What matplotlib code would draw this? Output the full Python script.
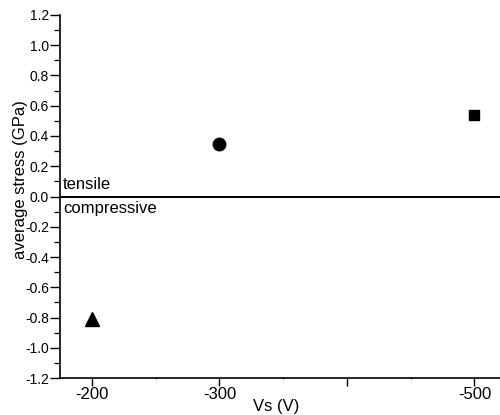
import matplotlib.pyplot as plt
from matplotlib.ticker import MultipleLocator

plt.rcParams['font.family'] = ['Liberation Sans', 'DejaVu Sans']

# data
vs = [-200, -300, -500]
stress = [-0.81, 0.35, 0.54]
markers = ['^', 'o', 's']
msizes = [9.5, 9, 7]
xticks = [-200, -300, -400, -500]
xticklabels = ['-200', '-300', '', '-500']

fig = plt.figure(figsize=(5, 4.15), dpi=100)
ax = fig.add_axes([0.12, 0.089, 0.88, 0.875])

for x, y, m, s in zip(vs, stress, markers, msizes):
    ax.plot(x, y, marker=m, color='black', markersize=s, linestyle='none')

ax.axhline(0, color='black', lw=1.4)

ax.set_xlim(-175, -520)
ax.set_ylim(-1.2, 1.2)
ax.set_xticks(xticks)
ax.set_xticklabels(xticklabels)
ax.xaxis.set_minor_locator(MultipleLocator(50))
ax.yaxis.set_major_locator(MultipleLocator(0.2))
ax.yaxis.set_minor_locator(MultipleLocator(0.1))
ax.set_yticklabels([f'{v:.1f}' for v in ax.get_yticks()])

ax.spines['top'].set_visible(False)
ax.spines['right'].set_visible(False)
ax.spines['left'].set_linewidth(1.2)
ax.spines['bottom'].set_linewidth(1.2)
ax.tick_params(axis='y', which='major', length=7, width=1, labelsize=10, pad=1)
ax.tick_params(axis='y', which='minor', length=4.5, width=0.9)
ax.tick_params(axis='x', which='major', length=5.5, width=1, labelsize=12, pad=1)
ax.tick_params(axis='x', which='minor', length=2, width=0.6, direction='inout')

ax.text(-177.4, 0.05, 'tensile', fontsize=12, va='baseline')
ax.text(-177.4, -0.11, 'compressive', fontsize=12, va='baseline')

fig.text(21 / 500, 1 - 180 / 415, 'average stress (GPa)', fontsize=12,
         rotation=90, ha='center', va='center')
fig.text(276 / 500, 1 - 406 / 415, 'Vs (V)', fontsize=12, ha='center', va='center')

fig.savefig('out.png', dpi=100)
